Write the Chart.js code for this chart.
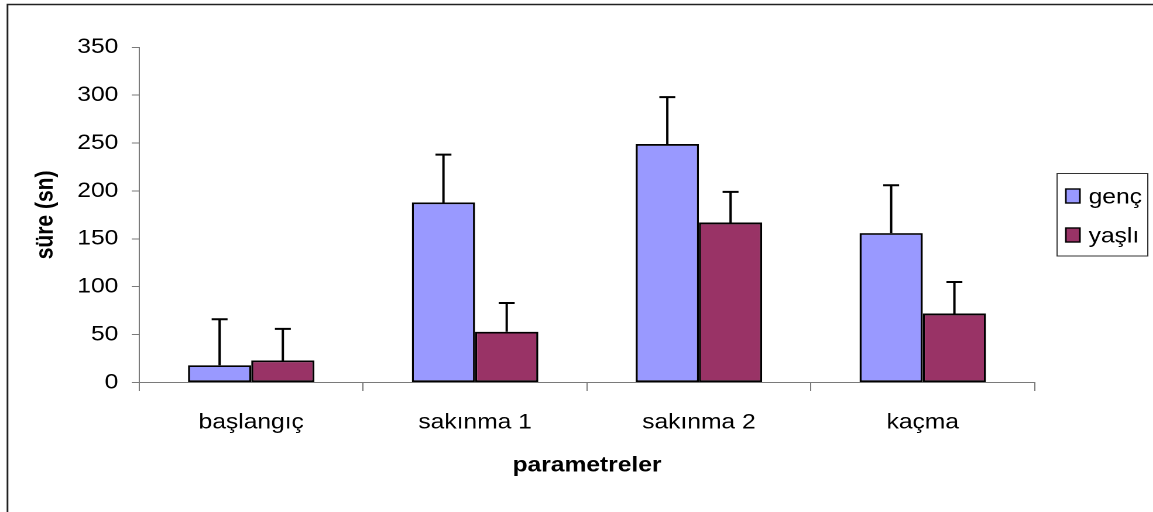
<!DOCTYPE html>
<html>
<head>
<meta charset="utf-8">
<script src="https://cdn.jsdelivr.net/npm/chart.js@4/dist/chart.umd.min.js"></script>
<style>
  html, body { margin: 0; padding: 0; background: #fff; overflow: hidden; }
  #wrap { position: absolute; left: 0; top: 0; width: 985px; height: 512px;
          transform: scaleX(1.1706); transform-origin: 0 0; }
</style>
</head>
<body>
<div id="wrap"><canvas id="c"></canvas></div>
<script>
// ---- data ----
const categories = ['başlangıç', 'sakınma 1', 'sakınma 2', 'kaçma'];
const seriesNames = ['genç', 'yaşlı'];
const genc = [18, 188, 249, 156];
const gencErr = [48, 50, 49, 50];
const yasli = [23, 53, 167, 72];
const yasliErr = [33, 30, 32, 33];
const yTicks = [0, 50, 100, 150, 200, 250, 300, 350];

const FONT = "'Liberation Sans', Arial, sans-serif";
const AXIS_COL = '#7a7a7a';
const errors = [gencErr, yasliErr];

const framePlugin = {
  id: 'frame',
  beforeDraw(chart) {
    const ctx = chart.ctx;
    ctx.save();
    ctx.fillStyle = '#fff';
    ctx.fillRect(0, 0, chart.width, chart.height);
    ctx.strokeStyle = '#222';
    ctx.lineWidth = 1.5;
    ctx.beginPath();
    ctx.moveTo(6.4, chart.height + 2);
    ctx.lineTo(6.4, 4.5);
    ctx.lineTo(chart.width + 2, 4.5);
    ctx.stroke();
    ctx.restore();
  }
};

const errorBarPlugin = {
  id: 'errbars',
  afterDatasetsDraw(chart) {
    const ctx = chart.ctx;
    const ys = chart.scales.y;
    ctx.save();
    ctx.strokeStyle = '#000';
    ctx.lineWidth = 2;
    chart.data.datasets.forEach((ds, i) => {
      const meta = chart.getDatasetMeta(i);
      meta.data.forEach((el, j) => {
        const v = ds.data[j];
        const e = errors[i][j];
        const yTop = ys.getPixelForValue(v + e);
        const x = el.x;
        ctx.beginPath();
        ctx.moveTo(x, el.y);
        ctx.lineTo(x, yTop);
        ctx.moveTo(x - 6.8, yTop);
        ctx.lineTo(x + 6.8, yTop);
        ctx.stroke();
      });
    });
    ctx.restore();
  }
};

const legendPlugin = {
  id: 'boxlegend',
  afterDraw(chart) {
    const ctx = chart.ctx;
    ctx.save();
    ctx.strokeStyle = '#333';
    ctx.lineWidth = 1;
    ctx.strokeRect(903, 173.5, 77.5, 82.5);
    const rows = [196, 235];
    chart.data.datasets.forEach((ds, i) => {
      const cy = rows[i];
      ctx.fillStyle = ds.backgroundColor;
      ctx.fillRect(910.5, cy - 7, 12, 14);
      ctx.strokeStyle = '#000';
      ctx.lineWidth = 1.4;
      ctx.strokeRect(910.5, cy - 7, 12, 14);
      ctx.fillStyle = '#000';
      ctx.font = '21px ' + FONT;
      ctx.textBaseline = 'alphabetic';
      ctx.textAlign = 'left';
      ctx.fillText(ds.label, 930, cy + 7.3);
    });
    ctx.restore();
  }
};

new Chart(document.getElementById('c'), {
  type: 'bar',
  data: {
    labels: categories,
    datasets: [
      { label: seriesNames[0], data: genc, backgroundColor: '#9999FF', borderColor: '#000', borderWidth: 1.8, borderSkipped: false },
      { label: seriesNames[1], data: yasli, backgroundColor: '#993366', borderColor: '#000', borderWidth: 1.8, borderSkipped: false }
    ]
  },
  options: {
    responsive: true,
    maintainAspectRatio: false,
    devicePixelRatio: 2,
    animation: false,
    events: [],
    datasets: { bar: { categoryPercentage: 0.565, barPercentage: 1.0 } },
    layout: { padding: { left: 0, right: 101.1, top: 47.3, bottom: 30 } },
    plugins: { legend: { display: false }, tooltip: { enabled: false } },
    scales: {
      x: {
        afterFit(s) { s.height = 99.5; },
        grid: { offset: true, drawOnChartArea: false, drawTicks: true, tickLength: 8.5, color: AXIS_COL, lineWidth: 1 },
        border: { color: AXIS_COL, width: 1 },
        ticks: { color: '#000', font: { family: FONT, size: 21 }, padding: 19, maxRotation: 0, autoSkip: false },
        title: { display: true, text: 'parametreler', color: '#000', font: { family: FONT, size: 21, weight: 'bold' }, padding: { top: 0, bottom: 3.5 } }
      },
      y: {
        min: 0, max: 350,
        afterFit(s) { s.width = 119; },
        afterBuildTicks(s) { s.ticks = yTicks.map(v => ({ value: v })); },
        grid: { drawOnChartArea: false, drawTicks: true, tickLength: 6.5, color: AXIS_COL, lineWidth: 1 },
        border: { color: AXIS_COL, width: 1 },
        ticks: { color: '#000', font: { family: FONT, size: 21 }, padding: 11.4, stepSize: 50 },
        title: { display: true, text: 'süre (sn)', color: '#000', font: { family: FONT, size: 21, weight: 'bold' }, padding: { top: 26.5, bottom: 0 } }
      }
    }
  },
  plugins: [framePlugin, errorBarPlugin, legendPlugin]
});
</script>
</body>
</html>
